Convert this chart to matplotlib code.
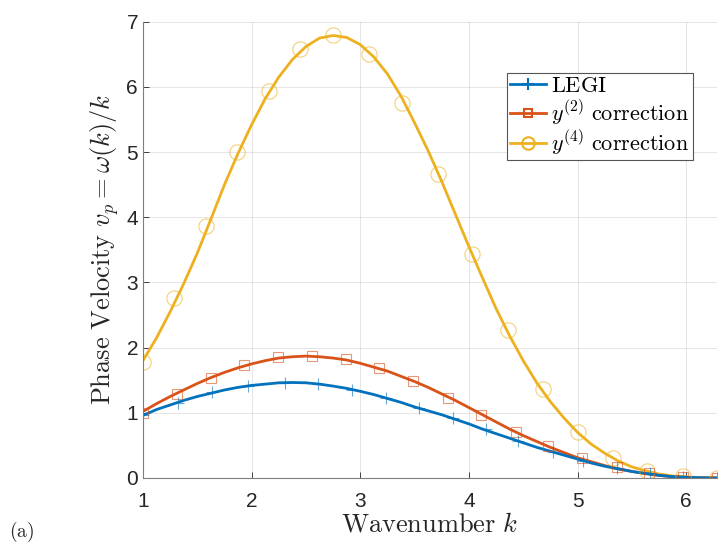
import matplotlib
matplotlib.use("Agg")
import matplotlib.pyplot as plt
from matplotlib.lines import Line2D

plt.rcParams['mathtext.fontset'] = 'cm'
plt.rcParams['font.family'] = ['Liberation Sans', 'DejaVu Sans']

# smooth curves
k_line = [1.0, 1.125, 1.25, 1.375, 1.5, 1.625, 1.75, 1.875, 2.0, 2.125, 2.25, 2.375,
          2.5, 2.625, 2.75, 2.875, 3.0, 3.125, 3.25, 3.375, 3.5, 3.625, 3.75, 3.875,
          4.0, 4.125, 4.25, 4.375, 4.5, 4.625, 4.75, 4.875, 5.0, 5.125, 5.25, 5.375,
          5.5, 5.625, 5.75, 5.875, 6.0, 6.125, 6.283]
legi_line = [0.96, 1.05, 1.12, 1.19, 1.25, 1.30, 1.35, 1.39, 1.42, 1.44, 1.46, 1.465,
             1.46, 1.44, 1.41, 1.375, 1.33, 1.28, 1.22, 1.16, 1.09, 1.03, 0.97, 0.90,
             0.83, 0.75, 0.68, 0.61, 0.54, 0.47, 0.41, 0.35, 0.29, 0.23, 0.18, 0.14,
             0.10, 0.07, 0.04, 0.02, 0.01, 0.003, 0.0]
y2_line = [1.02, 1.14, 1.25, 1.35, 1.45, 1.54, 1.62, 1.69, 1.75, 1.80, 1.84, 1.86,
           1.87, 1.86, 1.84, 1.81, 1.76, 1.70, 1.64, 1.56, 1.48, 1.39, 1.29, 1.19,
           1.08, 0.97, 0.86, 0.75, 0.65, 0.56, 0.47, 0.39, 0.31, 0.25, 0.19, 0.14,
           0.10, 0.065, 0.04, 0.02, 0.01, 0.003, 0.0]
y4_line = [1.80, 2.15, 2.55, 2.98, 3.45, 3.97, 4.50, 4.98, 5.42, 5.82, 6.15, 6.42,
           6.62, 6.75, 6.79, 6.76, 6.65, 6.46, 6.20, 5.86, 5.45, 5.02, 4.55, 4.05,
           3.55, 3.07, 2.60, 2.18, 1.80, 1.46, 1.17, 0.92, 0.70, 0.52, 0.38, 0.26,
           0.17, 0.11, 0.06, 0.03, 0.015, 0.005, 0.0]

# sampled markers
legi_mk_x = [1.0, 1.32, 1.64, 1.97, 2.31, 2.61, 2.92, 3.24, 3.54, 3.85, 4.16, 4.45,
             4.77, 5.05, 5.36, 5.67, 5.97, 6.28]
legi_mk_y = [0.97, 1.15, 1.32, 1.41, 1.46, 1.44, 1.35, 1.23, 1.08, 0.92, 0.75, 0.57,
             0.40, 0.26, 0.15, 0.07, 0.02, 0.0]
y2_mk_x = [1.0, 1.31, 1.63, 1.93, 2.24, 2.56, 2.87, 3.17, 3.49, 3.81, 4.11, 4.43,
           4.73, 5.04, 5.36, 5.66, 5.97, 6.28]
y2_mk_y = [1.0, 1.29, 1.53, 1.73, 1.85, 1.87, 1.82, 1.68, 1.49, 1.23, 0.97, 0.71,
           0.49, 0.31, 0.17, 0.07, 0.02, 0.0]
y4_mk_x = [1.0, 1.29, 1.58, 1.87, 2.16, 2.45, 2.75, 3.08, 3.38, 3.72, 4.03, 4.36,
           4.68, 5.0, 5.33, 5.64, 5.97, 6.28]
y4_mk_y = [1.78, 2.76, 3.87, 5.0, 5.94, 6.59, 6.80, 6.51, 5.76, 4.67, 3.44, 2.27,
           1.37, 0.71, 0.30, 0.11, 0.03, 0.0]

blue = '#0072BD'
orange = '#D95319'
yellow = '#EDB120'

fig = plt.figure(figsize=(7.22, 5.45), dpi=100)
ax = fig.add_axes([0.198, 0.123, 0.795, 0.837])

ax.plot(k_line, y4_line, color=yellow, lw=2)
ax.plot(k_line, y2_line, color=orange, lw=2)
ax.plot(k_line, legi_line, color=blue, lw=2)
ax.plot(y4_mk_x, y4_mk_y, ls='none', marker='o', ms=11, mfc='none', mec=yellow, mew=0.8, alpha=0.6)
ax.plot(y2_mk_x, y2_mk_y, ls='none', marker='s', ms=7, mfc='none', mec=orange, mew=0.8, alpha=0.6)
ax.plot(legi_mk_x, legi_mk_y, ls='none', marker='+', ms=9, mec=blue, mew=0.8, alpha=0.6)

ax.set_xlim(1, 6.283)
ax.set_ylim(0, 7)
ax.set_xticks([1, 2, 3, 4, 5, 6])
ax.set_yticks([0, 1, 2, 3, 4, 5, 6, 7])
ax.tick_params(direction='in', labelsize=15, colors='#262626', length=4, width=0.6)
ax.tick_params(axis='x', pad=10)
ax.grid(True, color='#262626', alpha=0.12, lw=0.7)
ax.spines['top'].set_visible(False)
ax.spines['right'].set_visible(False)
for s in ('left', 'bottom'):
    ax.spines[s].set_color('#7f7f7f')
    ax.spines[s].set_linewidth(0.8)

ax.set_xlabel(r'$\mathrm{Wavenumber}\ k$', fontsize=19, color='#262626', labelpad=1)
ax.set_ylabel(r'$\mathrm{Phase\ Velocity}\ v_p = \omega(k)/k$', fontsize=19, color='#262626', labelpad=4)

handles = [
    Line2D([], [], color=blue, lw=2, marker='+', ms=9, mew=1.5),
    Line2D([], [], color=orange, lw=2, marker='s', ms=6, mfc='none', mew=1.5),
    Line2D([], [], color=yellow, lw=2, marker='o', ms=9, mfc='none', mew=1.5),
]
labels = [r'$\mathrm{LEGI}$', r'$y^{(2)}\ \mathrm{correction}$', r'$y^{(4)}\ \mathrm{correction}$']
leg = ax.legend(handles, labels, loc='upper left', bbox_to_anchor=(0.634, 0.888),
                fontsize=16, fancybox=False, framealpha=1, edgecolor='#555555',
                handlelength=1.6, handletextpad=0.25, borderpad=0.15, labelspacing=0.05,
                borderaxespad=0)
leg.get_frame().set_linewidth(0.8)

fig.text(0.012, 0.002, r'$\mathrm{(a)}$', fontsize=14, va='bottom', color='#262626')

fig.savefig('out.png', dpi=100)
